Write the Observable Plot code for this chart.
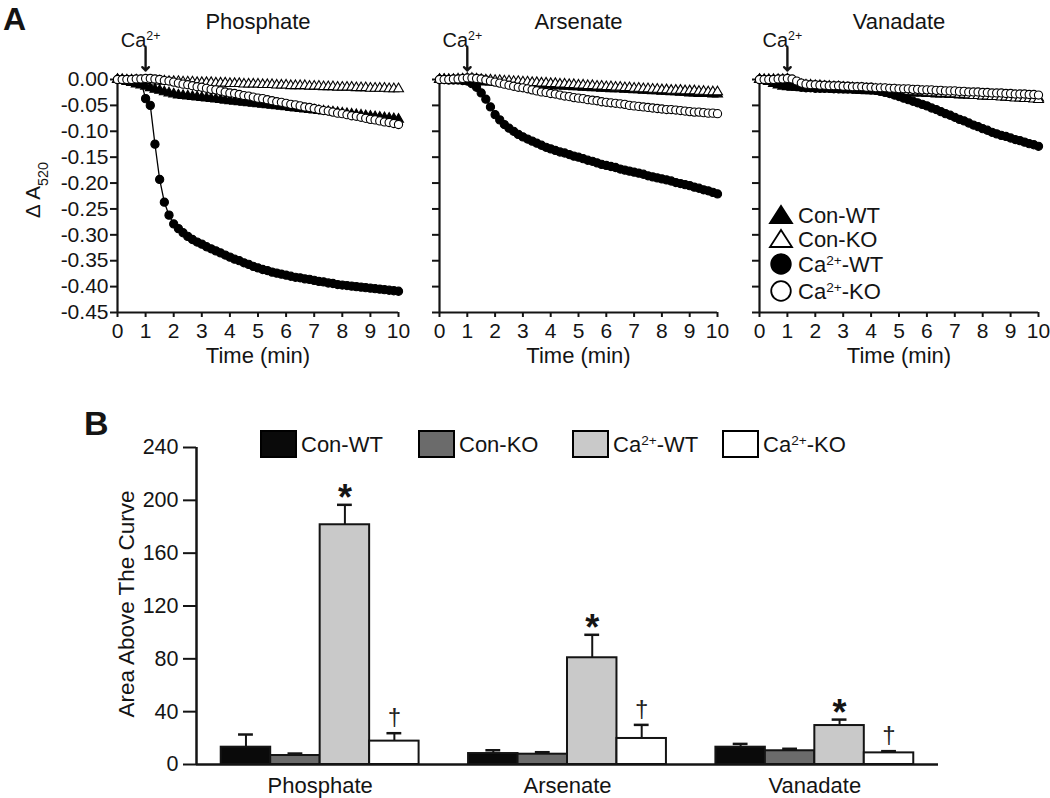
<!DOCTYPE html>
<html><head><meta charset="utf-8">
<script src="https://cdn.jsdelivr.net/npm/d3@7"></script>
<script src="https://cdn.jsdelivr.net/npm/@observablehq/plot@0.6"></script>
<style>
body{margin:0;background:#fff;}
#root{position:relative;width:1050px;height:798px;overflow:hidden;background:#fff;font-family:"Liberation Sans",Arial,sans-serif;}
#root svg{position:absolute;}
</style></head><body><div id="root"></div>
<script>
// ---------- Panel A data (time in min, ΔA520) ----------
const time = [0,0.167,0.333,0.5,0.667,0.833,1,1.167,1.333,1.5,1.667,1.833,2,2.167,2.333,2.5,2.667,2.833,3,3.167,3.333,3.5,3.667,3.833,4,4.167,4.333,4.5,4.667,4.833,5,5.167,5.333,5.5,5.667,5.833,6,6.167,6.333,6.5,6.667,6.833,7,7.167,7.333,7.5,7.667,7.833,8,8.167,8.333,8.5,8.667,8.833,9,9.167,9.333,9.5,9.667,9.833,10];

const phosConWT = [0,-0.002,-0.004,-0.006,-0.009,-0.011,-0.013,-0.016,-0.019,-0.021,-0.024,-0.026,-0.028,-0.030,-0.031,-0.032,-0.033,-0.034,-0.035,
 -0.036,-0.037,-0.038,-0.039,-0.040,-0.041,-0.042,-0.043,-0.044,-0.045,-0.046,-0.047,-0.048,-0.049,-0.050,-0.051,-0.052,-0.053,-0.054,-0.055,
 -0.056,-0.057,-0.058,-0.059,-0.060,-0.061,-0.062,-0.063,-0.064,-0.065,-0.066,-0.067,-0.068,-0.069,-0.070,-0.071,-0.072,-0.073,-0.074,-0.075,-0.076,-0.077];
const phosConKO = [0,0,-0.001,-0.001,-0.001,-0.002,-0.002,-0.002,-0.003,-0.003,-0.003,-0.004,-0.004,-0.004,-0.005,-0.005,-0.005,-0.006,-0.006,-0.006,
 -0.006,-0.007,-0.007,-0.007,-0.008,-0.008,-0.008,-0.009,-0.009,-0.009,-0.009,-0.010,-0.010,-0.010,-0.011,-0.011,-0.011,-0.012,-0.012,-0.012,
 -0.012,-0.013,-0.013,-0.013,-0.014,-0.014,-0.014,-0.015,-0.015,-0.015,-0.015,-0.016,-0.016,-0.016,-0.017,-0.017,-0.017,-0.017,-0.018,-0.018,-0.018];
const phosCaWT = [0,0,-0.001,-0.001,-0.002,-0.003,-0.037,-0.050,-0.125,-0.193,-0.237,-0.262,-0.279,-0.288,-0.296,-0.303,-0.309,-0.314,-0.318,
 -0.323,-0.327,-0.331,-0.335,-0.339,-0.343,-0.347,-0.350,-0.354,-0.357,-0.361,-0.364,-0.367,-0.369,-0.372,-0.374,-0.376,-0.378,-0.380,-0.382,
 -0.383,-0.385,-0.386,-0.388,-0.390,-0.391,-0.393,-0.394,-0.396,-0.397,-0.398,-0.399,-0.400,-0.401,-0.402,-0.403,-0.404,-0.405,-0.406,-0.407,-0.408,-0.409];
const phosCaKO = [0,0,0,0,0.001,0.001,0.002,0.002,0.001,0,-0.002,-0.003,-0.005,-0.007,-0.009,-0.010,-0.012,-0.014,-0.015,-0.017,
 -0.019,-0.020,-0.022,-0.024,-0.026,-0.027,-0.029,-0.031,-0.032,-0.034,-0.036,-0.037,-0.039,-0.041,-0.043,-0.044,-0.046,-0.048,-0.049,-0.051,
 -0.053,-0.054,-0.056,-0.058,-0.060,-0.061,-0.063,-0.065,-0.066,-0.068,-0.070,-0.071,-0.073,-0.075,-0.077,-0.078,-0.080,-0.082,-0.083,-0.085,-0.087];

const arsConWT = [0,0,-0.001,-0.001,-0.002,-0.002,-0.003,-0.003,-0.004,-0.004,-0.005,-0.005,-0.006,-0.006,-0.007,-0.007,-0.008,-0.008,-0.008,-0.009,
 -0.009,-0.010,-0.010,-0.011,-0.011,-0.012,-0.012,-0.013,-0.013,-0.014,-0.014,-0.015,-0.015,-0.016,-0.016,-0.017,-0.017,-0.018,-0.018,-0.018,
 -0.019,-0.019,-0.020,-0.020,-0.021,-0.021,-0.022,-0.022,-0.023,-0.023,-0.024,-0.024,-0.025,-0.025,-0.026,-0.026,-0.027,-0.027,-0.027,-0.028,-0.028];
const arsConKO = [0,0,0,0,0.001,0.001,0.002,0.002,0.001,0,-0.001,-0.001,-0.002,-0.002,-0.003,-0.003,-0.004,-0.004,-0.005,-0.005,
 -0.006,-0.006,-0.007,-0.007,-0.008,-0.008,-0.009,-0.009,-0.010,-0.010,-0.011,-0.011,-0.012,-0.012,-0.013,-0.013,-0.014,-0.014,-0.015,-0.015,
 -0.016,-0.016,-0.017,-0.017,-0.018,-0.018,-0.019,-0.019,-0.020,-0.020,-0.021,-0.021,-0.021,-0.022,-0.022,-0.022,-0.023,-0.023,-0.024,-0.024,-0.024];
const arsCaWT = [0,0,-0.001,-0.001,-0.001,-0.002,-0.003,-0.008,-0.015,-0.026,-0.038,-0.053,-0.068,-0.078,-0.087,-0.094,-0.100,-0.106,-0.111,
 -0.115,-0.119,-0.123,-0.127,-0.131,-0.134,-0.137,-0.140,-0.142,-0.145,-0.148,-0.150,-0.153,-0.156,-0.158,-0.161,-0.164,-0.166,-0.168,-0.170,
 -0.173,-0.175,-0.177,-0.179,-0.181,-0.183,-0.186,-0.188,-0.190,-0.192,-0.194,-0.196,-0.199,-0.201,-0.203,-0.205,-0.208,-0.210,-0.213,-0.215,-0.218,-0.221];
const arsCaKO = [0,0,0,0.001,0.001,0.002,0.003,0.003,0.002,0.001,-0.001,-0.003,-0.005,-0.007,-0.009,-0.011,-0.013,-0.015,-0.016,-0.018,
 -0.020,-0.022,-0.024,-0.025,-0.027,-0.028,-0.030,-0.032,-0.033,-0.035,-0.036,-0.037,-0.039,-0.040,-0.041,-0.043,-0.044,-0.045,-0.046,-0.047,
 -0.048,-0.050,-0.051,-0.052,-0.053,-0.054,-0.055,-0.056,-0.057,-0.058,-0.058,-0.059,-0.060,-0.061,-0.062,-0.063,-0.063,-0.064,-0.065,-0.065,-0.066];

const vanConWT = [0,-0.002,-0.004,-0.008,-0.011,-0.013,-0.014,-0.015,-0.015,-0.016,-0.016,-0.017,-0.017,-0.018,-0.018,-0.018,-0.019,-0.019,-0.020,-0.020,
 -0.020,-0.021,-0.021,-0.022,-0.022,-0.022,-0.023,-0.023,-0.024,-0.024,-0.024,-0.025,-0.025,-0.026,-0.026,-0.026,-0.027,-0.027,-0.028,-0.028,
 -0.028,-0.029,-0.029,-0.030,-0.030,-0.030,-0.031,-0.031,-0.032,-0.032,-0.032,-0.033,-0.033,-0.034,-0.034,-0.034,-0.035,-0.035,-0.036,-0.036,-0.036];
const vanConKO = [0,0,0,0,0,0,0.001,-0.004,-0.008,-0.010,-0.011,-0.011,-0.012,-0.012,-0.013,-0.013,-0.014,-0.014,-0.015,-0.016,
 -0.016,-0.017,-0.017,-0.018,-0.018,-0.019,-0.019,-0.020,-0.021,-0.021,-0.022,-0.022,-0.023,-0.023,-0.024,-0.024,-0.025,-0.026,-0.026,-0.027,
 -0.027,-0.028,-0.028,-0.029,-0.029,-0.030,-0.031,-0.031,-0.032,-0.032,-0.033,-0.033,-0.034,-0.034,-0.035,-0.036,-0.036,-0.037,-0.037,-0.038,-0.039];
const vanCaWT = [0,-0.001,-0.002,-0.003,-0.005,-0.006,-0.008,-0.011,-0.013,-0.015,-0.016,-0.016,-0.017,-0.017,-0.017,-0.017,-0.018,-0.018,-0.018,-0.018,
 -0.018,-0.019,-0.019,-0.019,-0.020,-0.021,-0.023,-0.025,-0.027,-0.030,-0.033,-0.036,-0.039,-0.042,-0.045,-0.048,-0.051,-0.055,-0.058,-0.062,
 -0.066,-0.069,-0.073,-0.077,-0.080,-0.084,-0.088,-0.091,-0.095,-0.098,-0.102,-0.105,-0.108,-0.110,-0.113,-0.116,-0.118,-0.121,-0.124,-0.126,-0.129];
const vanCaKO = [0,0,0,0,0.001,0.001,0.002,0.001,-0.003,-0.007,-0.009,-0.010,-0.010,-0.011,-0.011,-0.012,-0.012,-0.012,-0.013,-0.013,
 -0.014,-0.014,-0.014,-0.015,-0.015,-0.016,-0.016,-0.016,-0.017,-0.017,-0.018,-0.018,-0.018,-0.019,-0.019,-0.020,-0.020,-0.020,-0.021,-0.021,
 -0.022,-0.022,-0.022,-0.023,-0.023,-0.024,-0.024,-0.024,-0.025,-0.025,-0.026,-0.026,-0.026,-0.027,-0.027,-0.028,-0.028,-0.028,-0.029,-0.029,-0.030];

const seriesKeys = ["Con-WT", "Con-KO", "Ca2+-WT", "Ca2+-KO"];
const xTicksA = [0,1,2,3,4,5,6,7,8,9,10];
const yTicksA = [0,-0.05,-0.10,-0.15,-0.20,-0.25,-0.30,-0.35,-0.40,-0.45];
const caTime = [1];
const caLabel = ["Ca2+"];
const timeLabel = ["Time (min)"];

// ---------- Panel B data (area above the curve, mean and SEM) ----------
const groups = ["Phosphate", "Arsenate", "Vanadate"];
const areaConWT = [13.1, 8.3, 13.1];
const areaConKO = [6.8, 7.8, 10.4];
const areaCaWT  = [181.5, 80.8, 29.5];
const areaCaKO  = [17.7, 19.7, 8.8];
const semConWT = [9.6, 2.5, 2.5];
const semConKO = [1.5, 1.5, 1.5];
const semCaWT  = [15.1, 17.4, 4.5];
const semCaKO  = [6.0, 10.3, 1.3];
const yTicksB = [0, 40, 80, 120, 160, 200, 240];
const starLabel = "*";
const daggerLabel = "\u2020";

// ---------- styling ----------
const FONT = "'Liberation Sans', Arial, Helvetica, sans-serif";
const INK = "#141414";
const markerSymbol = ["triangle", "triangle", "circle", "circle"];
const markerFill = ["black", "white", "black", "white"];
const markerR = [3.7, 3.7, 4.1, 4.1];
const barFills = ["#0a0a0a", "#6b6b6b", "#c9c9c9", "#ffffff"];

const root = document.getElementById("root");

function supCa(svg) {
  svg.querySelectorAll("text").forEach(t => {
    if (t.textContent === "Ca2+") {
      t.textContent = "Ca";
      const ts = document.createElementNS("http://www.w3.org/2000/svg", "tspan");
      ts.setAttribute("baseline-shift", "super");
      ts.setAttribute("font-size", "0.62em");
      ts.textContent = "2+";
      t.appendChild(ts);
    }
  });
}

function panelA(name, arrays, left, width, marginLeft, marginRight, showLabels) {
  const rows = [];
  arrays.forEach((arr, s) => arr.forEach((v, i) => rows.push({t: time[i], v, s})));
  const marks = [
    Plot.text([name], {frameAnchor: "top", lineAnchor: "top", dy: -66, fontSize: 22, fill: INK}),
    Plot.text(caTime.map((t, i) => ({t, label: caLabel[i]})), {x: "t", text: "label", frameAnchor: "top", lineAnchor: "top", dy: -47, dx: -5, fontSize: 20, fill: INK}),
    Plot.vector(caTime, {x: d => d, frameAnchor: "top", anchor: "end", rotate: 180, length: 23, r: 2.5, dy: -9, stroke: INK, strokeWidth: 2.4}),
    Plot.axisX({ticks: xTicksA, tickSize: 5, tickPadding: 6, fontSize: 21, strokeWidth: 2, label: null, fill: INK}),
    Plot.axisY({ticks: yTicksA, tickSize: 7, tickPadding: 2, fontSize: 21, strokeWidth: 2, label: null, fill: INK,
                tickFormat: showLabels ? (d => d.toFixed(2)) : (() => "")}),
    Plot.text(timeLabel, {frameAnchor: "bottom", lineAnchor: "top", dy: 35, fontSize: 22, fill: INK}),
    Plot.ruleX([0], {stroke: INK, strokeWidth: 2.2}),
    Plot.ruleY([-0.45], {stroke: INK, strokeWidth: 2.2})
  ];
  seriesKeys.forEach((k, s) => {
    const d = rows.filter(r => r.s === s);
    marks.push(Plot.line(d, {x: "t", y: "v", stroke: "black", strokeWidth: 1.3}));
    marks.push(Plot.dot(d, {x: "t", y: "v", symbol: markerSymbol[s], r: markerR[s], fill: markerFill[s], stroke: "black", strokeWidth: 1.1}));
  });
  const svg = Plot.plot({
    width, height: 370, marginLeft, marginRight, marginTop: 79, marginBottom: 58,
    x: {domain: [0, 10]}, y: {domain: [-0.45, 0]},
    style: {background: "transparent", fontFamily: FONT, color: INK, overflow: "visible"},
    marks
  });
  supCa(svg);
  svg.style.left = left + "px";
  svg.style.top = "0px";
  root.appendChild(svg);
}

panelA("Phosphate", [phosConWT, phosConKO, phosCaWT, phosCaKO], 0, 410, 117, 12, true);
panelA("Arsenate", [arsConWT, arsConKO, arsCaWT, arsCaKO], 410, 320, 29, 13, false);
panelA("Vanadate", [vanConWT, vanConKO, vanCaWT, vanCaKO], 720, 330, 39, 12, false);

// ---------- Panel B ----------
const areas = [areaConWT, areaConKO, areaCaWT, areaCaKO];
const sems = [semConWT, semConKO, semCaWT, semCaKO];
const slot = seriesKeys.length + 1; // bars per group plus one gap
const bars = [];
groups.forEach((g, gi) => seriesKeys.forEach((k, si) => {
  bars.push({group: g, key: k, x0: gi * slot + si, v: areas[si][gi], e: sems[si][gi]});
}));
const groupCenters = groups.map((g, gi) => gi * slot + seriesKeys.length / 2);
const capHalf = 0.15;

const svgB = Plot.plot({
  width: 1050, height: 398, marginLeft: 196, marginRight: 112, marginTop: 47, marginBottom: 34,
  x: {domain: [-0.5, groups.length * slot - 0.5]},
  y: {domain: [0, 240]},
  color: {domain: seriesKeys, range: barFills},
  style: {background: "transparent", fontFamily: FONT, color: INK, overflow: "visible"},
  marks: [
    Plot.ruleX(bars, {x: d => d.x0 + 0.5, y1: "v", y2: d => d.v + d.e, stroke: INK, strokeWidth: 2}),
    Plot.ruleY(bars, {y: d => d.v + d.e, x1: d => d.x0 + 0.5 - capHalf, x2: d => d.x0 + 0.5 + capHalf, stroke: INK, strokeWidth: 2.5}),
    Plot.rect(bars, {x1: "x0", x2: d => d.x0 + 1, y1: 0, y2: "v", fill: "key", stroke: INK, strokeWidth: 2}),
    Plot.text(bars.filter(d => d.key === "Ca2+-WT"), {x: d => d.x0 + 0.5, y: d => d.v + d.e, text: () => starLabel, fontSize: 36, fontWeight: "bold", dy: -6, fill: INK}),
    Plot.text(bars.filter(d => d.key === "Ca2+-KO"), {x: d => d.x0 + 0.5, y: d => d.v + d.e, text: () => daggerLabel, fontSize: 24, dy: -16, fill: "#222"}),
    Plot.axisY({ticks: yTicksB, tickSize: 13, tickPadding: 5, fontSize: 21.5, strokeWidth: 2, label: null, fill: INK}),
    Plot.axisX({ticks: groupCenters, tickFormat: d => groups[groupCenters.indexOf(d)], tickSize: 0, tickPadding: 13, fontSize: 22, label: null, fill: INK}),
    Plot.ruleX([-0.5], {stroke: INK, strokeWidth: 2.5}),
    Plot.ruleY([0], {stroke: INK, strokeWidth: 2.5})
  ]
});
svgB.style.left = "0px";
svgB.style.top = "400px";
root.appendChild(svgB);

// ---------- Overlay: panel letters, axis titles, legends ----------
const ov = d3.select(root).append("svg")
  .attr("width", 1050).attr("height", 798)
  .style("left", "0px").style("top", "0px")
  .style("font-family", FONT).attr("fill", INK);

ov.append("text").attr("x", 3).attr("y", 30).attr("font-size", 32).attr("font-weight", "bold").text("A");
ov.append("text").attr("x", 84).attr("y", 435).attr("font-size", 34).attr("font-weight", "bold").text("B");

// y title panel A
const ya = ov.append("text").attr("transform", "translate(40,190) rotate(-90)").attr("text-anchor", "middle").attr("font-size", 20.5);
ya.append("tspan").text("\u0394 A");
ya.append("tspan").attr("baseline-shift", "sub").attr("font-size", "0.7em").text("520");

// y title panel B
ov.append("text").attr("transform", "translate(134,604) rotate(-90)").attr("text-anchor", "middle").attr("font-size", 22.5).text("Area Above The Curve");

function legendText(sel, x, y, size, label) {
  const t = sel.append("text").attr("x", x).attr("y", y).attr("font-size", size);
  const m = label.match(/^Ca2\+(.*)$/);
  if (m) {
    t.append("tspan").text("Ca");
    t.append("tspan").attr("baseline-shift", "super").attr("font-size", "0.62em").text("2+");
    t.append("tspan").text(m[1]);
  } else t.text(label);
}

// legend A (symbols)
const legA = ov.append("g");
const legARows = [215, 239, 264, 291];
seriesKeys.forEach((k, s) => {
  const cy = legARows[s];
  if (markerSymbol[s] === "triangle") {
    legA.append("path").attr("d", `M770,${cy + 8}L792,${cy + 8}L781,${cy - 9}Z`)
      .attr("fill", markerFill[s]).attr("stroke", "black").attr("stroke-width", 1.8).attr("stroke-linejoin", "miter");
  } else {
    legA.append("circle").attr("cx", 781).attr("cy", cy).attr("r", 9.8)
      .attr("fill", markerFill[s]).attr("stroke", "black").attr("stroke-width", 1.8);
  }
  legendText(legA, 798, cy + 7.5, 22, k);
});

// legend B (swatches)
const legB = ov.append("g");
const legBX = [261, 419, 573, 723];
seriesKeys.forEach((k, s) => {
  legB.append("rect").attr("x", legBX[s]).attr("y", 431).attr("width", 35).attr("height", 26)
    .attr("fill", barFills[s]).attr("stroke", "black").attr("stroke-width", 2);
  legendText(legB, legBX[s] + 40, 452, 22, k);
});
</script>
</body></html>
